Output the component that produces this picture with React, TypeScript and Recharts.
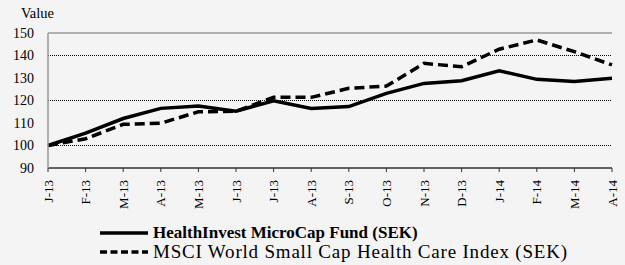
import { LineChart, Line, XAxis, YAxis, CartesianGrid, ReferenceLine } from "recharts"

// 月份标签 (J-13 ... A-14)
const months = ["J-13", "F-13", "M-13", "A-13", "M-13", "J-13", "J-13", "A-13", "S-13", "O-13", "N-13", "D-13", "J-14", "F-14", "M-14", "A-14"]
const fundValues = [100, 105.5, 112, 116.5, 117.6, 115.2, 119.9, 116.5, 117.3, 123.2, 127.6, 128.8, 133.2, 129.4, 128.5, 129.9]
const indexValues = [100, 103, 109.4, 109.9, 115, 115.2, 121.4, 121.4, 125.4, 126.4, 136.5, 135, 142.8, 146.9, 141.7, 135.8]
const yTicks = [90, 100, 110, 120, 130, 140, 150]

const fundName = "HealthInvest MicroCap Fund (SEK)"
const indexName = "MSCI World Small Cap Health Care Index (SEK)"

const data = months.map((m, i) => ({ month: m, fund: fundValues[i], index: indexValues[i] }))

const font = "'Liberation Serif', serif"

function MonthTick({ x, y, payload }: any) {
    return (
        <g transform={`translate(${x},${y + 6})`}>
            <text x={0} y={0} dy={4.5} textAnchor="end" transform="rotate(-90)" fontSize={13} fill="#000" style={{ fontFamily: font }}>
                {payload.value}
            </text>
        </g>
    )
}

function LegendRow({ dashed, label, bold }: { dashed?: boolean; label: string; bold?: boolean }) {
    return (
        <div style={{ display: "flex", alignItems: "center", height: 19 }}>
            <svg width={50} height={8} style={{ marginRight: 3 }}>
                <line x1={0} y1={4} x2={48} y2={4} stroke="#000" strokeWidth={3.5} strokeDasharray={dashed ? "7 3.5" : undefined} />
            </svg>
            <span
                style={{
                    fontWeight: bold ? "bold" : "normal",
                    fontSize: bold ? 17 : 19,
                    letterSpacing: bold ? 0 : 0.8,
                    whiteSpace: "nowrap",
                    fontFamily: font,
                }}
            >
                {label}
            </span>
        </div>
    )
}

export default function App() {
    return (
        <div style={{ position: "absolute", left: 0, top: 0, width: 625, height: 265, background: "#f4f4f4", fontFamily: font, overflow: "hidden" }}>
            <div style={{ position: "absolute", left: 21, top: 5, fontSize: 14.5 }}>Value</div>
            <LineChart width={625} height={215} data={data} margin={{ top: 33, right: 13, left: 0, bottom: 0 }}>
                <CartesianGrid horizontal vertical={false} stroke="#000" strokeDasharray="1 1" horizontalValues={[100, 110, 120, 130, 140]} />
                <ReferenceLine y={150} stroke="#999" strokeWidth={1.5} />
                <XAxis
                    dataKey="month"
                    tick={<MonthTick />}
                    tickLine={{ stroke: "#333" }}
                    tickSize={4}
                    axisLine={{ stroke: "#333", strokeWidth: 1.5 }}
                    height={47}
                    interval={0}
                />
                <YAxis
                    domain={[90, 150]}
                    ticks={yTicks}
                    width={48}
                    tickLine={false}
                    axisLine={{ stroke: "#999", strokeWidth: 1.5 }}
                    tick={{ fontSize: 14, fill: "#000", style: { fontFamily: font } }}
                    tickMargin={8}
                />
                <YAxis
                    yAxisId="r"
                    orientation="right"
                    domain={[90, 150]}
                    width={0}
                    tick={false}
                    tickLine={false}
                    axisLine={{ stroke: "#999", strokeWidth: 1.5 }}
                />
                <Line dataKey="index" stroke="#000" strokeWidth={3.5} strokeDasharray="10 5" dot={false} isAnimationActive={false} />
                <Line dataKey="fund" stroke="#000" strokeWidth={3.5} dot={false} isAnimationActive={false} />
            </LineChart>
            <div style={{ position: "absolute", left: 100, top: 223 }}>
                <LegendRow label={fundName} bold />
                <LegendRow label={indexName} dashed />
            </div>
        </div>
    )
}
